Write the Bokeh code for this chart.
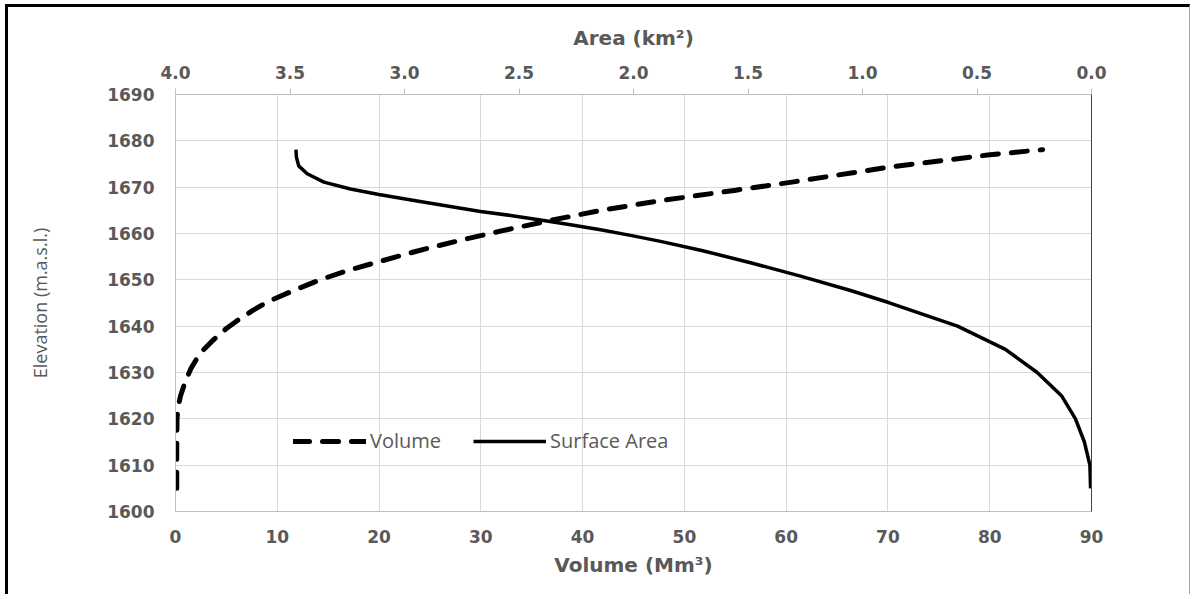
from bokeh.plotting import figure
from bokeh.models import (Range1d, LinearAxis, FixedTicker, PrintfTickFormatter,
                          Legend, LegendItem)
from bokeh.embed import file_html
from bokeh.resources import INLINE

# Volume curve (bottom axis, Mm3) vs elevation (m.a.s.l.)
vol_values = [0.12, 0.12, 0.15, 0.25, 0.5, 0.8, 1.15, 1.55, 2.1, 2.8, 3.8, 5.0, 6.2, 7.6, 9.0,
              11.6, 14.2, 16.9, 19.8, 23.4, 25.5, 28.5, 31.9, 36.8, 41.8, 47.7, 54.9,
              60.9, 70.0, 80.0, 85.2]
vol_elev = [1605, 1613, 1620, 1622.5, 1625, 1627, 1629, 1631, 1633, 1635, 1637.2, 1639.5,
            1641.4, 1643.4, 1645.2, 1647.7, 1650, 1652, 1653.8, 1656, 1657.2, 1658.8,
            1660.5, 1662.8, 1665, 1667.1, 1669.3, 1671.2, 1674.3, 1677, 1678.1]

# Surface area curve (top axis, km2) vs elevation
area_values = [0.004, 0.007, 0.031, 0.07, 0.131, 0.237, 0.376, 0.585, 0.886, 1.052, 1.271,
               1.489, 1.707, 1.882, 2.013, 2.144, 2.275, 2.406, 2.537, 2.668, 2.945, 3.112,
               3.236, 3.352, 3.425, 3.462, 3.472, 3.474]
area_elev = [1605, 1610, 1615, 1620, 1625, 1630, 1635, 1640, 1645.1, 1647.7, 1650.8,
             1653.7, 1656.4, 1658.3, 1659.6, 1660.8, 1661.9, 1662.9, 1663.9, 1664.75,
             1667.0, 1668.4, 1669.6, 1671.1, 1672.9, 1674.6, 1676.5, 1678.1]

vol_ticks = [0, 10, 20, 30, 40, 50, 60, 70, 80, 90]
area_ticks = [0.0, 0.5, 1.0, 1.5, 2.0, 2.5, 3.0, 3.5, 4.0]
elev_ticks = [1600, 1610, 1620, 1630, 1640, 1650, 1660, 1670, 1680, 1690]

TXT = "#595959"
GRID = "#d9d9d9"
AXL = "#bfbfbf"

W, H = 1185, 590
p = figure(width=W, height=H, output_backend="svg", toolbar_location=None,
           x_range=Range1d(0, 90), y_range=Range1d(1600, 1690),
           min_border_left=167, min_border_right=W - 1083, min_border_top=87,
           min_border_bottom=H - 504, x_axis_location="below")
p.styles = {"margin-left": "5px", "margin-top": "4px",
            "border-left": "3px solid black", "border-top": "3px solid black",
            "border-right": "1px solid #a0a0a0"}
p.outline_line_color = None
p.background_fill_color = "white"
p.border_fill_color = "white"
p.extra_x_ranges = {"area": Range1d(4.0, 0.0)}

# grids
p.xgrid.grid_line_color = GRID
p.ygrid.grid_line_color = GRID
p.xgrid.ticker = FixedTicker(ticks=vol_ticks)
p.ygrid.ticker = FixedTicker(ticks=elev_ticks)

# bottom axis
xa = p.xaxis[0]
xa.ticker = FixedTicker(ticks=vol_ticks)
xa.axis_label = "Volume (Mm³)"
xa.axis_line_color = AXL
xa.major_tick_line_color = None
xa.minor_tick_line_color = None
xa.major_label_standoff = 12
xa.axis_label_standoff = 7

# left axis
ya = p.yaxis[0]
ya.ticker = FixedTicker(ticks=elev_ticks)
ya.axis_label = "Elevation (m.a.s.l.)"
ya.axis_line_color = AXL
ya.major_tick_line_color = None
ya.minor_tick_line_color = None
ya.major_label_standoff = 15
ya.axis_label_standoff = 52
ya.axis_label_text_font = "Open Sans"
ya.axis_label_text_font_style = "normal"
ya.axis_label_text_font_size = "18px"
ya.axis_label_text_color = TXT

# top axis
ta = LinearAxis(x_range_name="area", ticker=FixedTicker(ticks=area_ticks),
                formatter=PrintfTickFormatter(format="%.1f"),
                axis_label="Area (km²)")
ta.axis_line_color = AXL
ta.major_tick_line_color = AXL
ta.major_tick_out = 6
ta.major_tick_in = 0
ta.minor_tick_line_color = None
ta.major_label_standoff = 10
ta.axis_label_standoff = 13
p.add_layout(ta, "above")

# right axis line only
ra = LinearAxis(ticker=FixedTicker(ticks=[]))
ra.axis_line_color = "#404040"
ra.major_tick_line_color = None
ra.minor_tick_line_color = None
ra.major_label_text_font_size = "0px"
p.add_layout(ra, "right")

for ax in (xa, ya, ta):
    ax.major_label_text_font = "DejaVu Sans"
    ax.major_label_text_font_style = "bold"
    ax.major_label_text_font_size = "17px"
    ax.major_label_text_color = TXT
for ax in (xa, ta):
    ax.axis_label_text_font = "DejaVu Sans"
    ax.axis_label_text_font_style = "bold"
    ax.axis_label_text_font_size = "20px"
    ax.axis_label_text_color = TXT

r_vol = p.line(vol_values, vol_elev, line_color="black", line_width=5,
               line_dash="16 13", line_cap="round", line_join="round")
r_area = p.line(area_values, area_elev, x_range_name="area", line_color="black",
                line_width=3.5, line_join="round")

legend = Legend(items=[LegendItem(label="Volume", renderers=[r_vol]),
                       LegendItem(label="Surface Area", renderers=[r_area])],
                orientation="horizontal", location=(118, 57),
                glyph_width=73, glyph_height=20, label_standoff=4, spacing=32,
                padding=0, margin=0, border_line_color=None,
                background_fill_alpha=0,
                label_text_font="Open Sans", label_text_font_size="20px",
                label_text_color=TXT)
p.add_layout(legend, "center")

open("out.html", "w").write(file_html(p, INLINE))
